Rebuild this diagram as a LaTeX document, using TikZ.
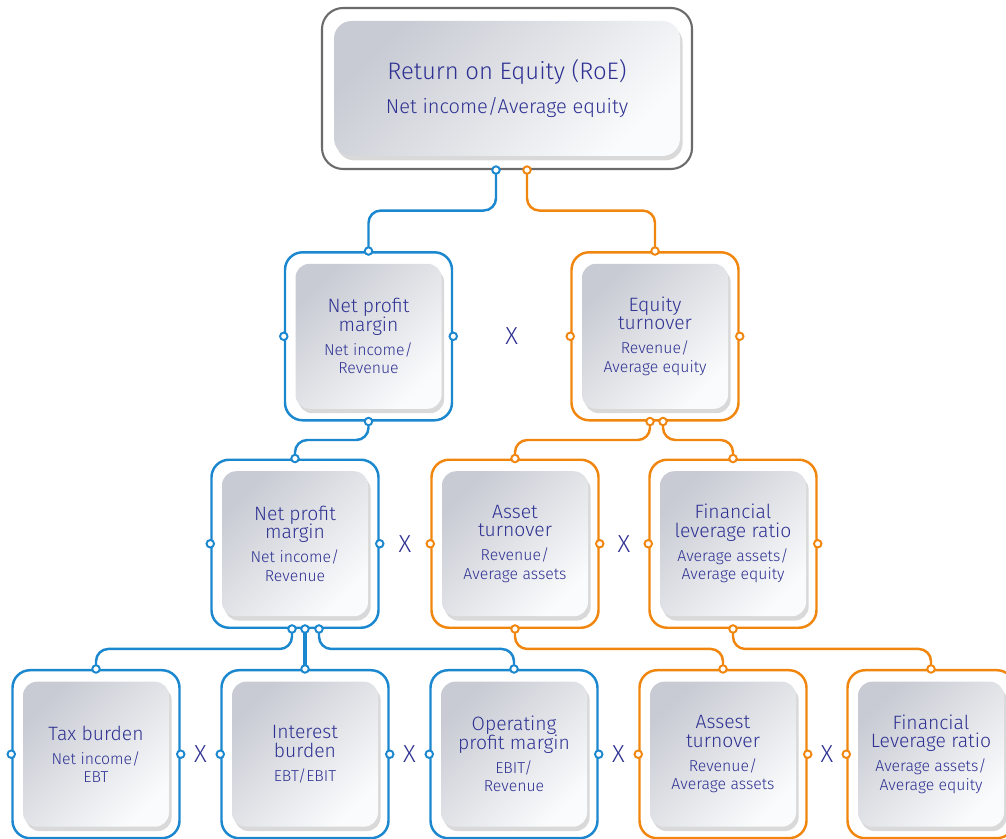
\documentclass[tikz,border=0pt]{standalone}
\usepackage{fontspec}
\setmainfont{Fira Sans}[UprightFont=* Light]
\usepackage{xcolor}
\usepackage{tikz}
\usetikzlibrary{positioning, calc, shadows}
\definecolor{lineblue}{HTML}{1A87CF}
\definecolor{lineorange}{HTML}{F1860E}
\definecolor{navy}{HTML}{2E3192}
\definecolor{framegray}{HTML}{6B6B6B}
\definecolor{cardtop}{HTML}{C8CBD3}
\definecolor{cardbot}{HTML}{FAFBFC}
\newcommand{\ctitle}{\fontsize{11}{12}\selectfont}
\newcommand{\csub}{\fontsize{9}{10}\selectfont}
\tikzstyle{topframe} = [rectangle, rounded corners=12pt, minimum width=7.4cm, minimum height=3.22cm, draw=framegray, line width=1.2pt]
\tikzstyle{frame} = [rectangle, rounded corners=10pt, minimum width=3.34cm, minimum height=3.36cm, line width=1.4pt]
\tikzstyle{card} = [rectangle, rounded corners=8pt, minimum width=2.92cm, minimum height=2.9cm, top color=cardtop, bottom color=cardbot, shading angle=45, drop shadow={shadow xshift=1.5pt, shadow yshift=-2.5pt, opacity=0.3}, text=navy, align=center, font=\fontsize{9}{10.6}\selectfont]
\tikzstyle{wire} = [line width=1.4pt, rounded corners=7pt]
\tikzstyle{knob} = [fill=white, line width=1.1pt]
\tikzstyle{times} = [text=navy, font=\fontsize{14}{16}\selectfont]

\begin{document}
\begin{tikzpicture}
    \useasboundingbox (0,0) rectangle (20.12,-16.78);

    % RoE
    \node (roe) [topframe] at (10.14,-1.77) {};
    \node (roec) [card, minimum width=6.92cm, minimum height=2.7cm, rounded corners=10pt, font=\fontsize{11.4}{14}\selectfont] at (roe) {\fontsize{13.6}{15}\selectfont Return on Equity (RoE)\\[5pt] Net income/Average equity};

    % Nivel 1
    \node (npmA) [frame, draw=lineblue, below=1.62cm of roe, xshift=-2.77cm] {};
    \node (npmAc) [card] at (npmA) {\ctitle Net profit\\\ctitle margin\\[3pt]\csub Net income/\\\csub Revenue};
    \node (et) [frame, draw=lineorange, below=1.62cm of roe, xshift=2.96cm] {};
    \node (etc) [card] at (et) {\ctitle Equity\\\ctitle turnover\\[3pt]\csub Revenue/\\\csub Average equity};
    \node (xa) [times] at ($(npmA.east)!0.5!(et.west)$) {X};

    % Nivel 2
    \node (npmB) [frame, draw=lineblue, below=0.74cm of npmA, xshift=-1.47cm] {};
    \node (npmBc) [card] at (npmB) {\ctitle Net profit\\\ctitle margin\\[3pt]\csub Net income/\\\csub Revenue};
    \node (at) [frame, draw=lineorange, below=0.74cm of et, xshift=-2.8cm] {};
    \node (atc) [card] at (at) {\ctitle Asset\\\ctitle turnover\\[3pt]\csub Revenue/\\\csub Average assets};
    \node (flr) [frame, draw=lineorange, below=0.74cm of et, xshift=1.56cm] {};
    \node (flrc) [card] at (flr) {\ctitle Financial\\\ctitle leverage ratio\\[3pt]\csub Average assets/\\\csub Average equity};
    \node (xb) [times] at ($(npmB.east)!0.5!(at.west)$) {X};
    \node (xc) [times] at ($(at.east)!0.5!(flr.west)$) {X};

    % Nivel 3
    \node (tax) [frame, draw=lineblue, below=0.8cm of npmB, xshift=-3.98cm] {};
    \node (taxc) [card] at (tax) {\ctitle Tax burden\\[3pt]\csub Net income/\\\csub EBT};
    \node (ib) [frame, draw=lineblue, below=0.8cm of npmB, xshift=0.2cm] {};
    \node (ibc) [card] at (ib) {\ctitle Interest\\\ctitle burden\\[3pt]\csub EBT/EBIT};
    \node (opm) [frame, draw=lineblue, below=0.8cm of npmB, xshift=4.38cm] {};
    \node (opmc) [card] at (opm) {\ctitle Operating\\\ctitle profit margin\\[3pt]\csub EBIT/\\\csub Revenue};
    \node (ast) [frame, draw=lineorange, below=0.8cm of at, xshift=4.16cm] {};
    \node (astc) [card] at (ast) {\ctitle Assest\\\ctitle turnover\\[3pt]\csub Revenue/\\\csub Average assets};
    \node (flrB) [frame, draw=lineorange, below=0.8cm of flr, xshift=3.96cm] {};
    \node (flrBc) [card] at (flrB) {\ctitle Financial\\\ctitle Leverage ratio\\[3pt]\csub Average assets/\\\csub Average equity};
    \node (xd) [times] at ($(tax.east)!0.5!(ib.west)$) {X};
    \node (xe) [times] at ($(ib.east)!0.5!(opm.west)$) {X};
    \node (xf) [times] at ($(opm.east)!0.5!(ast.west)$) {X};
    \node (xg) [times] at ($(ast.east)!0.5!(flrB.west)$) {X};

    % --- Conexiones ---
    \coordinate (roeB) at ($(roe.south)+(-0.22,0)$);
    \coordinate (roeO) at ($(roe.south)+(0.4,0)$);
    \coordinate (etL) at ($(et.south)+(-0.1,0)$);
    \coordinate (etR) at ($(et.south)+(0.16,0)$);
    \coordinate (npmL) at ($(npmB.south)+(-0.06,0)$);
    \coordinate (npmM) at ($(npmB.south)+(0.2,0)$);
    \coordinate (npmR) at ($(npmB.south)+(0.48,0)$);

    \draw [wire, lineblue] (roeB) |- ($(roeB)!0.5!(npmA.north)$) -| (npmA.north);
    \draw [wire, lineorange] (roeO) |- ($(roeO)!0.5!(et.north)$) -| (et.north);
    \draw [wire, lineblue] (npmA.south) |- ($(npmA.south)!0.5!(npmB.north)$) -| (npmB.north);
    \draw [wire, lineorange] (etL) |- ($(etL)!0.5!(at.north)$) -| (at.north);
    \draw [wire, lineorange] (etR) |- ($(etR)!0.5!(flr.north)$) -| (flr.north);
    \draw [wire, lineblue] (npmL) |- ($(npmL)!0.5!(tax.north)$) -| (tax.north);
    \draw [wire, lineblue, line width=2pt] (npmM) -- (ib.north);
    \draw [wire, lineblue] (npmR) |- ($(npmR)!0.5!(opm.north)$) -| (opm.north);
    \draw [wire, lineorange] (at.south) |- ($(at.south)!0.5!(ast.north)$) -| (ast.north);
    \draw [wire, lineorange] (flr.south) |- ($(flr.south)!0.5!(flrB.north)$) -| (flrB.north);

    % pins
    \foreach \p in {roeB, npmA.north, npmA.south, npmA.west, npmA.east, npmB.north, npmB.west, npmB.east, npmL, npmM, npmR, tax.north, tax.west, tax.east, ib.north, ib.west, ib.east, opm.north, opm.west, opm.east}
        \draw [knob, draw=lineblue] (\p) circle (0.075);
    \foreach \p in {roeO, et.north, et.west, et.east, etL, etR, at.north, at.west, at.east, at.south, flr.north, flr.west, flr.east, flr.south, ast.north, ast.west, ast.east, flrB.north, flrB.west}
        \draw [knob, draw=lineorange] (\p) circle (0.075);

\end{tikzpicture}
\end{document}
